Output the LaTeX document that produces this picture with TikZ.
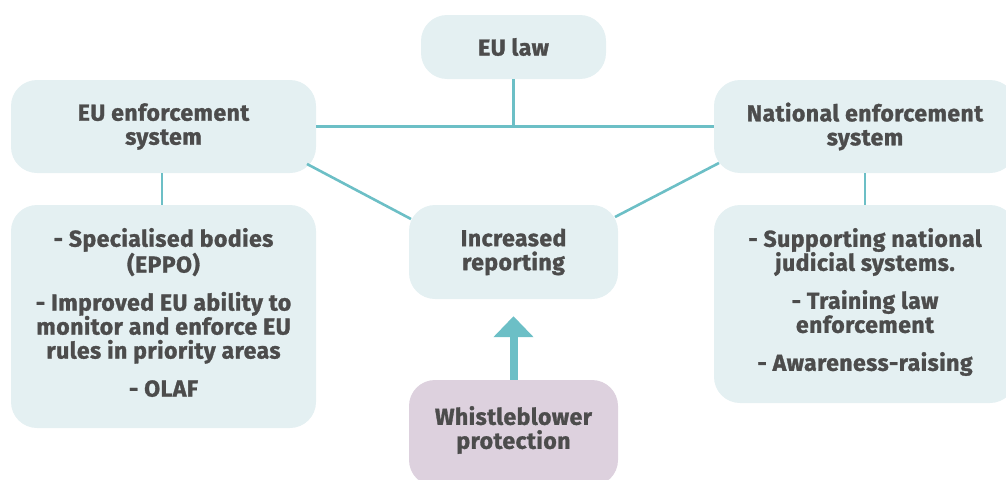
\documentclass[tikz,border=0pt]{standalone}
\usepackage{fontspec}
\setmainfont{Fira Sans}[BoldFeatures={FakeBold=1.3,LetterSpace=2}]
\usetikzlibrary{arrows.meta}
\definecolor{boxblue}{HTML}{E4F0F2}
\definecolor{boxpurple}{HTML}{DDD1DE}
\definecolor{teal}{HTML}{6CBFC6}
\definecolor{txt}{HTML}{4C4C4C}
\tikzset{
  box/.style={fill=boxblue, draw=none, rounded corners=26pt, align=center,
    text=txt, font=\fontsize{23}{24}\selectfont\bfseries, inner sep=0pt},
  lbl/.style={align=center, text=txt, font=\fontsize{23}{24}\selectfont\bfseries, inner sep=0pt},
  conn/.style={draw=teal, line width=2.6pt}
}
\begin{document}
\begin{tikzpicture}[x=1pt,y=-1pt]
\useasboundingbox (0,0) rectangle (1006,479);
\begin{scope}
\clip (0,0) rectangle (1006,479);
\node[box, minimum width=185pt, minimum height=64pt] (law) at (513.5,47) {EU law};
\node[box, minimum width=305pt, minimum height=93pt] (eus) at (163.5,126.5) {EU enforcement\\system};
\node[box, minimum width=302pt, minimum height=93pt] (nat) at (865,126.5) {National enforcement\\system};
\node[box, minimum width=305pt, minimum height=223pt] (eul) at (163.5,316.5) {};
\node[lbl] (eult) at (163.5,312.5) {- Specialised bodies\\(EPPO)\\[14pt]- Improved EU ability to\\monitor and enforce EU\\rules in priority areas\\[14pt]- OLAF};
\node[box, minimum width=302pt, minimum height=198pt] (natl) at (865,304) {};
\node[lbl] (natlt) at (865,302) {- Supporting national\\judicial systems.\\[14pt]- Training law\\enforcement\\[14pt]- Awareness-raising};
\node[box, minimum width=209pt, minimum height=94pt] (rep) at (513.5,252) {Increased\\reporting};
\node[box, fill=boxpurple, minimum width=209pt, minimum height=106pt] (wb) at (513.5,433) {};
\node[lbl] (wbt) at (513.5,430) {Whistleblower\\protection};
\end{scope}
\coordinate (j) at (513.5,126.5);
\draw[conn] (law.south) -- (j);
\draw[conn] (eus.east) -- (nat.west);
\draw[conn] (eus.south -| 162,0) -- (eul.north -| 162,0);
\draw[conn] (nat.south -| 865,0) -- (natl.north -| 865,0);
\draw[conn] (307,164) -- (411,219);
\draw[conn] (615,217) -- (719,163);
\draw[draw=teal, line width=8pt, shorten >=17pt, -{Triangle[length=21pt,width=39pt]}] (wb.north) -- (rep.south);
\end{tikzpicture}
\end{document}
